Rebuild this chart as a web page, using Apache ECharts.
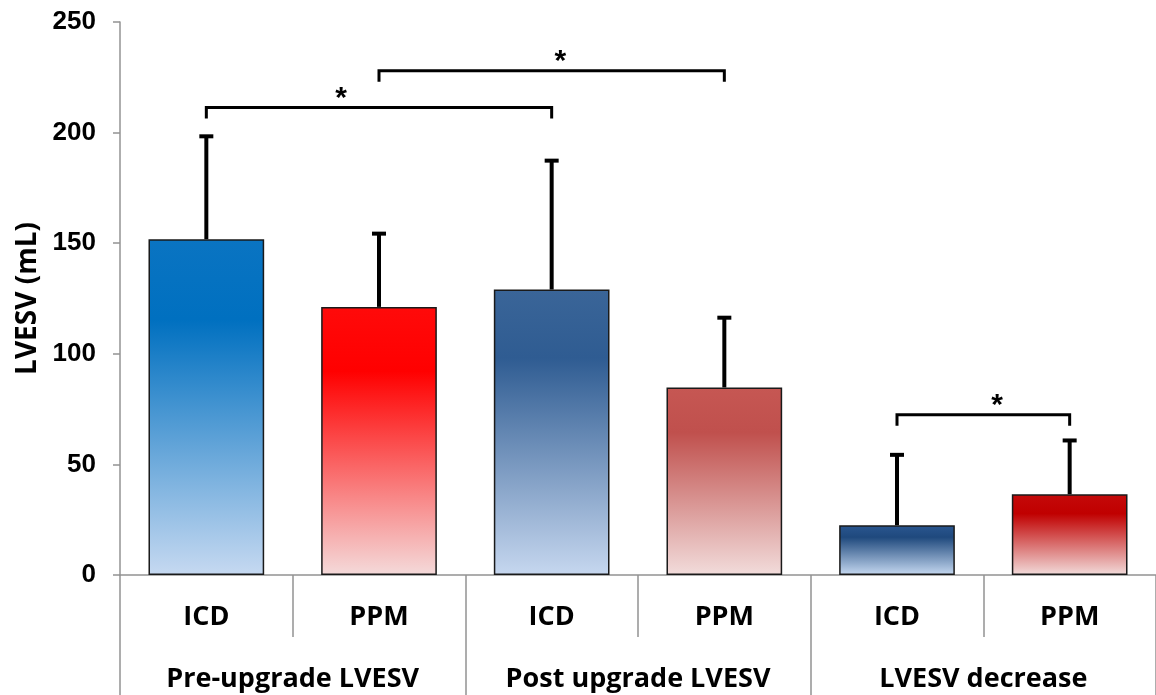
<!DOCTYPE html>
<html>
<head>
<meta charset="utf-8">
<script src="https://cdn.jsdelivr.net/npm/echarts@6/dist/echarts.min.js"></script>
<style>
html,body{margin:0;padding:0;background:#fff;}
#chart{width:1156px;height:695px;}
</style>
</head>
<body>
<div id="chart"></div>
<script>
// ---- data ----
var categories = ['ICD', 'PPM', 'ICD', 'PPM', 'ICD', 'PPM'];
var groups = ['Pre-upgrade LVESV', 'Post upgrade LVESV', 'LVESV decrease'];
var means = [151.8, 121.2, 129.1, 84.8, 22.5, 36.5];
var errorTops = [199, 155, 188, 117, 55, 61.5];
// significance brackets: [from bar index, to bar index, height (mL), asterisk position (bar index units)]
var bracketFrom = [0, 1, 4];
var bracketTo = [2, 3, 5];
var bracketY = [211.3, 228, 72.4];
var starPos = [0.78, 2.05, 4.58];
var yTicks = [0, 50, 100, 150, 200, 250];

// ---- styles ----
var gradients = [
  ['#0A74C2', '#0070C0', '#C6D9F1'],
  ['#FF0A0A', '#FF0000', '#F4DADA'],
  ['#3A6598', '#2F5C92', '#C6D7EF'],
  ['#C65753', '#C0504D', '#F2DCDB'],
  ['#2A5690', '#1F497D', '#C6D9F1'],
  ['#C40A0A', '#C00000', '#F2DCDB']
];

function grad(c) {
  return new echarts.graphic.LinearGradient(0, 0, 0, 1, [
    {offset: 0, color: c[0]},
    {offset: 0.24, color: c[1]},
    {offset: 1, color: c[2]}
  ]);
}

var barData = means.map(function (v, i) {
  return {value: v, itemStyle: {color: grad(gradients[i])}};
});

var errData = means.map(function (v, i) { return [i, v, errorTops[i]]; });
var bracketData = bracketFrom.map(function (f, i) {
  return [f, bracketTo[i], bracketY[i], starPos[i]];
});

var axisGray = '#939393';
var labelFont = '"Open Sans", sans-serif';

var chart = echarts.init(document.getElementById('chart'), null, {renderer: 'canvas'});
chart.setOption({
  animation: false,
  backgroundColor: '#ffffff',
  grid: {left: 120, right: -6, top: 22, bottom: 120, containLabel: false},
  xAxis: [
    {
      type: 'category',
      data: categories,
      position: 'bottom',
      axisLine: {show: true, lineStyle: {color: axisGray, width: 1.5}},
      axisTick: {show: true, interval: 0, length: 62, lineStyle: {color: axisGray, width: 1.5}},
      axisLabel: {
        interval: 0, margin: 29, color: '#000', fontFamily: labelFont,
        fontWeight: 'bold', fontSize: 27, lineHeight: 27
      }
    },
    {
      type: 'category',
      data: groups,
      position: 'bottom',
      offset: 62,
      axisLine: {show: false},
      axisTick: {show: true, interval: 0, length: 60, lineStyle: {color: axisGray, width: 1.5}},
      axisLabel: {
        interval: 0, margin: 29, color: '#000', fontFamily: labelFont,
        fontWeight: 'bold', fontSize: 27, lineHeight: 27
      }
    }
  ],
  yAxis: {
    type: 'value',
    min: 0, max: 250, interval: 50,
    name: 'LVESV (mL)',
    nameLocation: 'middle',
    nameGap: 78,
    nameRotate: 90,
    nameTextStyle: {color: '#000', fontFamily: labelFont, fontWeight: 'bold', fontSize: 28},
    axisLine: {show: true, lineStyle: {color: axisGray, width: 1.5}},
    axisTick: {show: true, length: 7, lineStyle: {color: axisGray, width: 1.5}},
    splitLine: {show: false},
    axisLabel: {
      margin: 24, color: '#000', fontFamily: '"Liberation Sans", Arial, sans-serif',
      fontWeight: 'bold', fontSize: 26,
      formatter: function (v) { return yTicks.indexOf(v) >= 0 ? String(v) : ''; }
    }
  },
  series: [
    {
      type: 'bar',
      data: barData,
      barWidth: '67%',
      itemStyle: {borderColor: '#1a1a1a', borderWidth: 1.5},
      z: 2
    },
    {
      type: 'custom',
      data: errData,
      z: 3,
      renderItem: function (params, api) {
        var base = api.coord([api.value(0), api.value(1)]);
        var top = api.coord([api.value(0), api.value(2)]);
        var cap = 7;
        return {
          type: 'group',
          children: [
            {type: 'line', shape: {x1: base[0], y1: base[1], x2: top[0], y2: top[1] + 1.5},
              style: {stroke: '#000', lineWidth: 4}},
            {type: 'line', shape: {x1: top[0] - cap, y1: top[1] + 1.5, x2: top[0] + cap, y2: top[1] + 1.5},
              style: {stroke: '#000', lineWidth: 4}}
          ]
        };
      }
    },
    {
      type: 'custom',
      data: bracketData,
      z: 4,
      renderItem: function (params, api) {
        var p1 = api.coord([api.value(0), api.value(2)]);
        var p2 = api.coord([api.value(1), api.value(2)]);
        var band = api.size([1, 0])[0];
        var sp = api.value(3);
        var fl = Math.floor(sp);
        var sx = api.coord([fl, api.value(2)])[0] + (sp - fl) * band;
        var leg = 11;
        return {
          type: 'group',
          children: [
            {type: 'polyline', shape: {points: [[p1[0], p1[1] + leg], [p1[0], p1[1]], [p2[0], p2[1]], [p2[0], p2[1] + leg]]},
              style: {stroke: '#000', lineWidth: 3, fill: null}},
            {type: 'text', x: sx, y: p1[1] + 6,
              style: {text: '*', fill: '#000', font: 'bold 30px "Liberation Sans", Arial, sans-serif',
                align: 'center', verticalAlign: 'bottom'}}
          ]
        };
      }
    }
  ]
});
</script>
</body>
</html>
